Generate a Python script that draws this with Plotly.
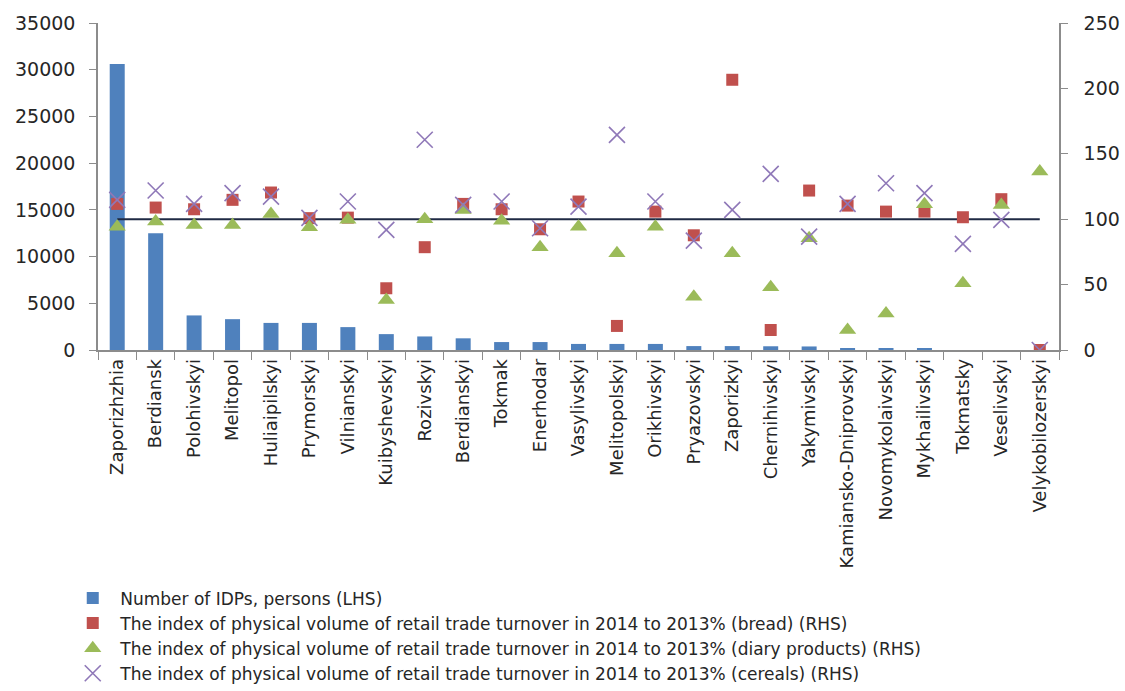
import plotly.graph_objects as go

# Districts of Zaporizhzhia oblast
districts = [
    "Zaporizhzhia", "Berdiansk", "Polohivskyi", "Melitopol", "Huliaipilskyi",
    "Prymorskyi", "Vilnianskyi", "Kuibyshevskyi", "Rozivskyi", "Berdianskyi",
    "Tokmak", "Enerhodar", "Vasylivskyi", "Melitopolskyi", "Orikhivskyi",
    "Pryazovskyi", "Zaporizkyi", "Chernihivskyi", "Yakymivskyi",
    "Kamiansko-Dniprovskyi", "Novomykolaivskyi", "Mykhailivskyi", "Tokmatsky",
    "Veselivskyi", "Velykobilozerskyi",
]

# Number of IDPs, persons (left axis)
idps = [30600, 12500, 3700, 3300, 2900, 2900, 2450, 1700, 1450, 1250,
        850, 850, 650, 650, 650, 420, 420, 400, 380, 200,
        180, 180, 0, 0, 0]

# Retail trade turnover indices, 2014 to 2013 % (right axis)
bread = [111.7, 108.9, 107.6, 114.8, 120.4, 100.8, 101.2, 47.2, 78.6, 111.7,
         107.6, 92.3, 113.5, 18.4, 105.8, 87.7, 206.6, 15.3, 121.9, 110.4,
         105.8, 105.8, 101.5, 115.3, 0]
dairy = [94.3, 98.2, 95.6, 95.6, 104.0, 93.9, 99.5, 38.3, 100.0, 107.1,
         98.9, 78.6, 94.3, 74.0, 94.3, 40.8, 74.0, 48.0, 85.5, 15.3,
         28.0, 111.5, 51.0, 110.9, 136.4]
cereals = [114.8, 121.9, 111.7, 119.9, 117.3, 101.0, 113.5, 91.8, 160.7, 110.9,
           113.5, 93.1, 109.6, 164.5, 113.5, 83.6, 107.1, 134.7, 86.7, 111.7,
           127.5, 119.9, 81.1, 99.5, 0]
baseline = [100] * len(districts)

legend_names = [
    "Number of IDPs, persons (LHS)",
    "The index of physical volume of retail trade turnover in 2014 to 2013% (bread) (RHS)",
    "The index of physical volume of retail trade turnover in 2014 to 2013% (diary products) (RHS)",
    "The index of physical volume of retail trade turnover in 2014 to 2013% (cereals) (RHS)",
]

FONT = "DejaVu Sans"
TEXT = "#262626"
AXIS = "#8c8c8c"
PURPLE = "#8F78B8"

fig = go.Figure()

fig.add_trace(go.Bar(
    x=districts, y=idps, name=legend_names[0],
    marker=dict(color="#4F81BD", line=dict(width=0)),
    yaxis="y",
))

fig.add_trace(go.Scatter(
    x=districts, y=baseline, mode="lines", showlegend=False,
    line=dict(color="#1F2A44", width=2), yaxis="y2", hoverinfo="skip",
))

fig.add_trace(go.Scatter(
    x=districts, y=bread, mode="markers", name=legend_names[1],
    marker=dict(symbol="square", size=12, color="#C0504D"),
    yaxis="y2",
))

fig.add_trace(go.Scatter(
    x=districts, y=dairy, mode="markers", name=legend_names[2],
    marker=dict(symbol="triangle-up", size=15, color="#9BBB59"),
    yaxis="y2",
))

fig.add_trace(go.Scatter(
    x=districts, y=cereals, mode="markers", name=legend_names[3],
    marker=dict(symbol="x-thin-open", size=16, color=PURPLE,
                line=dict(color=PURPLE, width=1.6)),
    yaxis="y2",
))

fig.update_layout(
    width=1125, height=691,
    margin=dict(l=98, r=66, t=23, b=341, autoexpand=False),
    paper_bgcolor="white", plot_bgcolor="white",
    font=dict(family=FONT, size=19, color=TEXT),
    bargap=0.61,
    showlegend=True,
    legend=dict(
        xref="container", yref="container",
        x=0.058, y=0.16, xanchor="left", yanchor="top",
        font=dict(family=FONT, size=17, color=TEXT),
        itemwidth=45, tracegroupgap=0,
        bgcolor="rgba(0,0,0,0)",
    ),
    xaxis=dict(
        type="category", range=[-0.5, len(districts) - 0.5],
        tickangle=-90, ticks="outside", tickson="boundaries",
        ticklen=8, tickcolor=AXIS, showline=True, linecolor=AXIS,
        linewidth=1.5, showgrid=False, zeroline=False,
        tickfont=dict(family=FONT, size=18, color=TEXT),
    ),
    yaxis=dict(
        range=[0, 35000], dtick=5000, ticks="outside", ticklen=7,
        tickcolor=AXIS, showline=True, linecolor=AXIS, linewidth=1.5,
        showgrid=False, zeroline=False, tickformat="d",
        ticklabelstandoff=10,
        tickfont=dict(family=FONT, size=19, color=TEXT),
    ),
    yaxis2=dict(
        range=[0, 250], dtick=50, overlaying="y", side="right",
        ticks="outside", ticklen=7, tickcolor=AXIS, showline=True,
        linecolor=AXIS, linewidth=1.5, showgrid=False, zeroline=False,
        ticklabelstandoff=12,
        tickfont=dict(family=FONT, size=19, color=TEXT),
    ),
)

fig.write_html("out.html")
